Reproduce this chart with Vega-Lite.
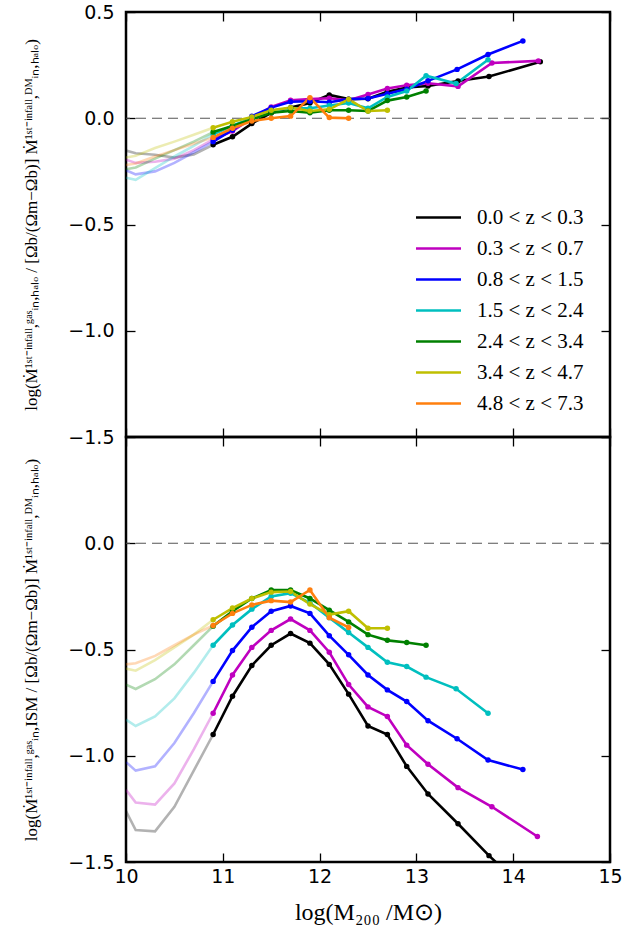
{
"$schema": "https://vega.github.io/schema/vega-lite/v6.json",
"padding": {"left": 21, "top": 1, "right": 5, "bottom": 5},
"spacing": 0,
"bounds": "flush",
"config": {
 "view": {"stroke": "#000", "strokeWidth": 2.5},
 "axis": {"grid": false, "domain": false, "tickColor": "#000", "tickWidth": 1.3, "tickSize": -9, "labelFont": "DejaVu Sans", "labelFontSize": 19, "labelColor": "#000", "labelPadding": 21, "labelFlush": false, "titleFont": "Liberation Serif", "titleColor": "#000", "titleFontWeight": "normal", "titleFontSize": 17},
 "line": {"strokeWidth": 2.6}
},
"datasets": {"d": [
{"p":"t","s":"m","z":"0.0 < z < 0.3","x":10.9,"y":-0.125},{"p":"t","s":"m","z":"0.0 < z < 0.3","x":11.1,"y":-0.087},{"p":"t","s":"m","z":"0.0 < z < 0.3","x":11.3,"y":-0.025},{"p":"t","s":"m","z":"0.0 < z < 0.3","x":11.5,"y":0.025},{"p":"t","s":"m","z":"0.0 < z < 0.3","x":11.7,"y":0.05},{"p":"t","s":"m","z":"0.0 < z < 0.3","x":11.9,"y":0.072},{"p":"t","s":"m","z":"0.0 < z < 0.3","x":12.1,"y":0.11},{"p":"t","s":"m","z":"0.0 < z < 0.3","x":12.3,"y":0.09},{"p":"t","s":"m","z":"0.0 < z < 0.3","x":12.5,"y":0.092},{"p":"t","s":"m","z":"0.0 < z < 0.3","x":12.7,"y":0.125},{"p":"t","s":"m","z":"0.0 < z < 0.3","x":12.9,"y":0.145},{"p":"t","s":"m","z":"0.0 < z < 0.3","x":13.12,"y":0.152},{"p":"t","s":"m","z":"0.0 < z < 0.3","x":13.43,"y":0.175},{"p":"t","s":"m","z":"0.0 < z < 0.3","x":13.75,"y":0.196},{"p":"t","s":"m","z":"0.0 < z < 0.3","x":14.28,"y":0.266},
{"p":"t","s":"m","z":"0.3 < z < 0.7","x":10.9,"y":-0.1},{"p":"t","s":"m","z":"0.3 < z < 0.7","x":11.1,"y":-0.06},{"p":"t","s":"m","z":"0.3 < z < 0.7","x":11.3,"y":0.0},{"p":"t","s":"m","z":"0.3 < z < 0.7","x":11.5,"y":0.053},{"p":"t","s":"m","z":"0.3 < z < 0.7","x":11.7,"y":0.085},{"p":"t","s":"m","z":"0.3 < z < 0.7","x":11.9,"y":0.09},{"p":"t","s":"m","z":"0.3 < z < 0.7","x":12.1,"y":0.094},{"p":"t","s":"m","z":"0.3 < z < 0.7","x":12.3,"y":0.085},{"p":"t","s":"m","z":"0.3 < z < 0.7","x":12.5,"y":0.112},{"p":"t","s":"m","z":"0.3 < z < 0.7","x":12.7,"y":0.14},{"p":"t","s":"m","z":"0.3 < z < 0.7","x":12.9,"y":0.155},{"p":"t","s":"m","z":"0.3 < z < 0.7","x":13.12,"y":0.165},{"p":"t","s":"m","z":"0.3 < z < 0.7","x":13.43,"y":0.15},{"p":"t","s":"m","z":"0.3 < z < 0.7","x":13.78,"y":0.26},{"p":"t","s":"m","z":"0.3 < z < 0.7","x":14.26,"y":0.27},
{"p":"t","s":"m","z":"0.8 < z < 1.5","x":10.9,"y":-0.11},{"p":"t","s":"m","z":"0.8 < z < 1.5","x":11.1,"y":-0.055},{"p":"t","s":"m","z":"0.8 < z < 1.5","x":11.3,"y":0.01},{"p":"t","s":"m","z":"0.8 < z < 1.5","x":11.5,"y":0.05},{"p":"t","s":"m","z":"0.8 < z < 1.5","x":11.7,"y":0.078},{"p":"t","s":"m","z":"0.8 < z < 1.5","x":11.9,"y":0.08},{"p":"t","s":"m","z":"0.8 < z < 1.5","x":12.1,"y":0.075},{"p":"t","s":"m","z":"0.8 < z < 1.5","x":12.3,"y":0.09},{"p":"t","s":"m","z":"0.8 < z < 1.5","x":12.5,"y":0.093},{"p":"t","s":"m","z":"0.8 < z < 1.5","x":12.7,"y":0.115},{"p":"t","s":"m","z":"0.8 < z < 1.5","x":12.9,"y":0.137},{"p":"t","s":"m","z":"0.8 < z < 1.5","x":13.12,"y":0.176},{"p":"t","s":"m","z":"0.8 < z < 1.5","x":13.42,"y":0.23},{"p":"t","s":"m","z":"0.8 < z < 1.5","x":13.74,"y":0.3},{"p":"t","s":"m","z":"0.8 < z < 1.5","x":14.1,"y":0.364},
{"p":"t","s":"m","z":"1.5 < z < 2.4","x":10.9,"y":-0.075},{"p":"t","s":"m","z":"1.5 < z < 2.4","x":11.1,"y":-0.035},{"p":"t","s":"m","z":"1.5 < z < 2.4","x":11.3,"y":0.0},{"p":"t","s":"m","z":"1.5 < z < 2.4","x":11.5,"y":0.035},{"p":"t","s":"m","z":"1.5 < z < 2.4","x":11.7,"y":0.047},{"p":"t","s":"m","z":"1.5 < z < 2.4","x":11.9,"y":0.047},{"p":"t","s":"m","z":"1.5 < z < 2.4","x":12.1,"y":0.06},{"p":"t","s":"m","z":"1.5 < z < 2.4","x":12.3,"y":0.072},{"p":"t","s":"m","z":"1.5 < z < 2.4","x":12.5,"y":0.047},{"p":"t","s":"m","z":"1.5 < z < 2.4","x":12.7,"y":0.1},{"p":"t","s":"m","z":"1.5 < z < 2.4","x":12.9,"y":0.128},{"p":"t","s":"m","z":"1.5 < z < 2.4","x":13.1,"y":0.2},{"p":"t","s":"m","z":"1.5 < z < 2.4","x":13.41,"y":0.163},{"p":"t","s":"m","z":"1.5 < z < 2.4","x":13.74,"y":0.275},
{"p":"t","s":"m","z":"2.4 < z < 3.4","x":10.9,"y":-0.065},{"p":"t","s":"m","z":"2.4 < z < 3.4","x":11.1,"y":-0.036},{"p":"t","s":"m","z":"2.4 < z < 3.4","x":11.3,"y":-0.005},{"p":"t","s":"m","z":"2.4 < z < 3.4","x":11.5,"y":0.026},{"p":"t","s":"m","z":"2.4 < z < 3.4","x":11.7,"y":0.034},{"p":"t","s":"m","z":"2.4 < z < 3.4","x":11.9,"y":0.026},{"p":"t","s":"m","z":"2.4 < z < 3.4","x":12.1,"y":0.038},{"p":"t","s":"m","z":"2.4 < z < 3.4","x":12.3,"y":0.038},{"p":"t","s":"m","z":"2.4 < z < 3.4","x":12.5,"y":0.034},{"p":"t","s":"m","z":"2.4 < z < 3.4","x":12.7,"y":0.083},{"p":"t","s":"m","z":"2.4 < z < 3.4","x":12.9,"y":0.1},{"p":"t","s":"m","z":"2.4 < z < 3.4","x":13.1,"y":0.128},
{"p":"t","s":"m","z":"3.4 < z < 4.7","x":10.9,"y":-0.045},{"p":"t","s":"m","z":"3.4 < z < 4.7","x":11.1,"y":-0.017},{"p":"t","s":"m","z":"3.4 < z < 4.7","x":11.3,"y":0.006},{"p":"t","s":"m","z":"3.4 < z < 4.7","x":11.5,"y":0.038},{"p":"t","s":"m","z":"3.4 < z < 4.7","x":11.7,"y":0.05},{"p":"t","s":"m","z":"3.4 < z < 4.7","x":11.9,"y":0.034},{"p":"t","s":"m","z":"3.4 < z < 4.7","x":12.1,"y":0.042},{"p":"t","s":"m","z":"3.4 < z < 4.7","x":12.3,"y":0.089},{"p":"t","s":"m","z":"3.4 < z < 4.7","x":12.5,"y":0.034},{"p":"t","s":"m","z":"3.4 < z < 4.7","x":12.7,"y":0.038},
{"p":"t","s":"m","z":"4.8 < z < 7.3","x":10.9,"y":-0.09},{"p":"t","s":"m","z":"4.8 < z < 7.3","x":11.1,"y":-0.047},{"p":"t","s":"m","z":"4.8 < z < 7.3","x":11.3,"y":-0.013},{"p":"t","s":"m","z":"4.8 < z < 7.3","x":11.5,"y":0.0},{"p":"t","s":"m","z":"4.8 < z < 7.3","x":11.7,"y":0.01},{"p":"t","s":"m","z":"4.8 < z < 7.3","x":11.9,"y":0.097},{"p":"t","s":"m","z":"4.8 < z < 7.3","x":12.1,"y":0.003},{"p":"t","s":"m","z":"4.8 < z < 7.3","x":12.3,"y":0.0},
{"p":"t","s":"l","z":"0.0 < z < 0.3","x":10.0,"y":-0.152},{"p":"t","s":"l","z":"0.0 < z < 0.3","x":10.1,"y":-0.165},{"p":"t","s":"l","z":"0.0 < z < 0.3","x":10.3,"y":-0.172},{"p":"t","s":"l","z":"0.0 < z < 0.3","x":10.5,"y":-0.185},{"p":"t","s":"l","z":"0.0 < z < 0.3","x":10.7,"y":-0.17},{"p":"t","s":"l","z":"0.0 < z < 0.3","x":10.9,"y":-0.125},
{"p":"t","s":"l","z":"0.3 < z < 0.7","x":10.0,"y":-0.195},{"p":"t","s":"l","z":"0.3 < z < 0.7","x":10.1,"y":-0.21},{"p":"t","s":"l","z":"0.3 < z < 0.7","x":10.3,"y":-0.205},{"p":"t","s":"l","z":"0.3 < z < 0.7","x":10.5,"y":-0.19},{"p":"t","s":"l","z":"0.3 < z < 0.7","x":10.7,"y":-0.15},{"p":"t","s":"l","z":"0.3 < z < 0.7","x":10.9,"y":-0.1},
{"p":"t","s":"l","z":"0.8 < z < 1.5","x":10.0,"y":-0.245},{"p":"t","s":"l","z":"0.8 < z < 1.5","x":10.1,"y":-0.264},{"p":"t","s":"l","z":"0.8 < z < 1.5","x":10.3,"y":-0.25},{"p":"t","s":"l","z":"0.8 < z < 1.5","x":10.5,"y":-0.21},{"p":"t","s":"l","z":"0.8 < z < 1.5","x":10.7,"y":-0.16},{"p":"t","s":"l","z":"0.8 < z < 1.5","x":10.9,"y":-0.11},
{"p":"t","s":"l","z":"1.5 < z < 2.4","x":10.0,"y":-0.28},{"p":"t","s":"l","z":"1.5 < z < 2.4","x":10.1,"y":-0.29},{"p":"t","s":"l","z":"1.5 < z < 2.4","x":10.3,"y":-0.235},{"p":"t","s":"l","z":"1.5 < z < 2.4","x":10.5,"y":-0.18},{"p":"t","s":"l","z":"1.5 < z < 2.4","x":10.7,"y":-0.13},{"p":"t","s":"l","z":"1.5 < z < 2.4","x":10.9,"y":-0.075},
{"p":"t","s":"l","z":"2.4 < z < 3.4","x":10.0,"y":-0.24},{"p":"t","s":"l","z":"2.4 < z < 3.4","x":10.1,"y":-0.232},{"p":"t","s":"l","z":"2.4 < z < 3.4","x":10.3,"y":-0.19},{"p":"t","s":"l","z":"2.4 < z < 3.4","x":10.5,"y":-0.15},{"p":"t","s":"l","z":"2.4 < z < 3.4","x":10.7,"y":-0.11},{"p":"t","s":"l","z":"2.4 < z < 3.4","x":10.9,"y":-0.065},
{"p":"t","s":"l","z":"3.4 < z < 4.7","x":10.0,"y":-0.185},{"p":"t","s":"l","z":"3.4 < z < 4.7","x":10.1,"y":-0.177},{"p":"t","s":"l","z":"3.4 < z < 4.7","x":10.3,"y":-0.14},{"p":"t","s":"l","z":"3.4 < z < 4.7","x":10.5,"y":-0.11},{"p":"t","s":"l","z":"3.4 < z < 4.7","x":10.7,"y":-0.078},{"p":"t","s":"l","z":"3.4 < z < 4.7","x":10.9,"y":-0.045},
{"p":"t","s":"l","z":"4.8 < z < 7.3","x":10.0,"y":-0.22},{"p":"t","s":"l","z":"4.8 < z < 7.3","x":10.1,"y":-0.213},{"p":"t","s":"l","z":"4.8 < z < 7.3","x":10.3,"y":-0.18},{"p":"t","s":"l","z":"4.8 < z < 7.3","x":10.5,"y":-0.15},{"p":"t","s":"l","z":"4.8 < z < 7.3","x":10.7,"y":-0.12},{"p":"t","s":"l","z":"4.8 < z < 7.3","x":10.9,"y":-0.09},
{"p":"b","s":"m","z":"0.0 < z < 0.3","x":10.9,"y":-0.9},{"p":"b","s":"m","z":"0.0 < z < 0.3","x":11.1,"y":-0.72},{"p":"b","s":"m","z":"0.0 < z < 0.3","x":11.3,"y":-0.575},{"p":"b","s":"m","z":"0.0 < z < 0.3","x":11.5,"y":-0.48},{"p":"b","s":"m","z":"0.0 < z < 0.3","x":11.7,"y":-0.425},{"p":"b","s":"m","z":"0.0 < z < 0.3","x":11.9,"y":-0.47},{"p":"b","s":"m","z":"0.0 < z < 0.3","x":12.1,"y":-0.57},{"p":"b","s":"m","z":"0.0 < z < 0.3","x":12.3,"y":-0.71},{"p":"b","s":"m","z":"0.0 < z < 0.3","x":12.5,"y":-0.86},{"p":"b","s":"m","z":"0.0 < z < 0.3","x":12.7,"y":-0.9},{"p":"b","s":"m","z":"0.0 < z < 0.3","x":12.9,"y":-1.05},{"p":"b","s":"m","z":"0.0 < z < 0.3","x":13.12,"y":-1.18},{"p":"b","s":"m","z":"0.0 < z < 0.3","x":13.43,"y":-1.32},{"p":"b","s":"m","z":"0.0 < z < 0.3","x":13.75,"y":-1.47},{"p":"b","s":"m","z":"0.0 < z < 0.3","x":14.1,"y":-1.62},{"p":"b","s":"m","z":"0.0 < z < 0.3","x":14.28,"y":-1.7},
{"p":"b","s":"m","z":"0.3 < z < 0.7","x":10.9,"y":-0.8},{"p":"b","s":"m","z":"0.3 < z < 0.7","x":11.1,"y":-0.62},{"p":"b","s":"m","z":"0.3 < z < 0.7","x":11.3,"y":-0.49},{"p":"b","s":"m","z":"0.3 < z < 0.7","x":11.5,"y":-0.41},{"p":"b","s":"m","z":"0.3 < z < 0.7","x":11.7,"y":-0.357},{"p":"b","s":"m","z":"0.3 < z < 0.7","x":11.9,"y":-0.41},{"p":"b","s":"m","z":"0.3 < z < 0.7","x":12.1,"y":-0.513},{"p":"b","s":"m","z":"0.3 < z < 0.7","x":12.3,"y":-0.665},{"p":"b","s":"m","z":"0.3 < z < 0.7","x":12.5,"y":-0.77},{"p":"b","s":"m","z":"0.3 < z < 0.7","x":12.7,"y":-0.815},{"p":"b","s":"m","z":"0.3 < z < 0.7","x":12.9,"y":-0.95},{"p":"b","s":"m","z":"0.3 < z < 0.7","x":13.12,"y":-1.04},{"p":"b","s":"m","z":"0.3 < z < 0.7","x":13.43,"y":-1.15},{"p":"b","s":"m","z":"0.3 < z < 0.7","x":13.78,"y":-1.24},{"p":"b","s":"m","z":"0.3 < z < 0.7","x":14.25,"y":-1.38},
{"p":"b","s":"m","z":"0.8 < z < 1.5","x":10.9,"y":-0.65},{"p":"b","s":"m","z":"0.8 < z < 1.5","x":11.1,"y":-0.505},{"p":"b","s":"m","z":"0.8 < z < 1.5","x":11.3,"y":-0.395},{"p":"b","s":"m","z":"0.8 < z < 1.5","x":11.5,"y":-0.32},{"p":"b","s":"m","z":"0.8 < z < 1.5","x":11.7,"y":-0.295},{"p":"b","s":"m","z":"0.8 < z < 1.5","x":11.9,"y":-0.33},{"p":"b","s":"m","z":"0.8 < z < 1.5","x":12.1,"y":-0.435},{"p":"b","s":"m","z":"0.8 < z < 1.5","x":12.3,"y":-0.525},{"p":"b","s":"m","z":"0.8 < z < 1.5","x":12.5,"y":-0.62},{"p":"b","s":"m","z":"0.8 < z < 1.5","x":12.7,"y":-0.69},{"p":"b","s":"m","z":"0.8 < z < 1.5","x":12.9,"y":-0.745},{"p":"b","s":"m","z":"0.8 < z < 1.5","x":13.12,"y":-0.835},{"p":"b","s":"m","z":"0.8 < z < 1.5","x":13.42,"y":-0.92},{"p":"b","s":"m","z":"0.8 < z < 1.5","x":13.74,"y":-1.02},{"p":"b","s":"m","z":"0.8 < z < 1.5","x":14.1,"y":-1.065},
{"p":"b","s":"m","z":"1.5 < z < 2.4","x":10.9,"y":-0.48},{"p":"b","s":"m","z":"1.5 < z < 2.4","x":11.1,"y":-0.385},{"p":"b","s":"m","z":"1.5 < z < 2.4","x":11.3,"y":-0.31},{"p":"b","s":"m","z":"1.5 < z < 2.4","x":11.5,"y":-0.25},{"p":"b","s":"m","z":"1.5 < z < 2.4","x":11.7,"y":-0.235},{"p":"b","s":"m","z":"1.5 < z < 2.4","x":11.9,"y":-0.28},{"p":"b","s":"m","z":"1.5 < z < 2.4","x":12.1,"y":-0.35},{"p":"b","s":"m","z":"1.5 < z < 2.4","x":12.3,"y":-0.42},{"p":"b","s":"m","z":"1.5 < z < 2.4","x":12.5,"y":-0.49},{"p":"b","s":"m","z":"1.5 < z < 2.4","x":12.7,"y":-0.56},{"p":"b","s":"m","z":"1.5 < z < 2.4","x":12.9,"y":-0.58},{"p":"b","s":"m","z":"1.5 < z < 2.4","x":13.1,"y":-0.63},{"p":"b","s":"m","z":"1.5 < z < 2.4","x":13.41,"y":-0.685},{"p":"b","s":"m","z":"1.5 < z < 2.4","x":13.74,"y":-0.8},
{"p":"b","s":"m","z":"2.4 < z < 3.4","x":10.9,"y":-0.39},{"p":"b","s":"m","z":"2.4 < z < 3.4","x":11.1,"y":-0.32},{"p":"b","s":"m","z":"2.4 < z < 3.4","x":11.3,"y":-0.26},{"p":"b","s":"m","z":"2.4 < z < 3.4","x":11.5,"y":-0.22},{"p":"b","s":"m","z":"2.4 < z < 3.4","x":11.7,"y":-0.22},{"p":"b","s":"m","z":"2.4 < z < 3.4","x":11.9,"y":-0.26},{"p":"b","s":"m","z":"2.4 < z < 3.4","x":12.1,"y":-0.315},{"p":"b","s":"m","z":"2.4 < z < 3.4","x":12.3,"y":-0.37},{"p":"b","s":"m","z":"2.4 < z < 3.4","x":12.5,"y":-0.43},{"p":"b","s":"m","z":"2.4 < z < 3.4","x":12.7,"y":-0.457},{"p":"b","s":"m","z":"2.4 < z < 3.4","x":12.9,"y":-0.467},{"p":"b","s":"m","z":"2.4 < z < 3.4","x":13.1,"y":-0.48},
{"p":"b","s":"m","z":"3.4 < z < 4.7","x":10.9,"y":-0.36},{"p":"b","s":"m","z":"3.4 < z < 4.7","x":11.1,"y":-0.305},{"p":"b","s":"m","z":"3.4 < z < 4.7","x":11.3,"y":-0.26},{"p":"b","s":"m","z":"3.4 < z < 4.7","x":11.5,"y":-0.23},{"p":"b","s":"m","z":"3.4 < z < 4.7","x":11.7,"y":-0.227},{"p":"b","s":"m","z":"3.4 < z < 4.7","x":11.9,"y":-0.286},{"p":"b","s":"m","z":"3.4 < z < 4.7","x":12.1,"y":-0.336},{"p":"b","s":"m","z":"3.4 < z < 4.7","x":12.3,"y":-0.32},{"p":"b","s":"m","z":"3.4 < z < 4.7","x":12.5,"y":-0.4},{"p":"b","s":"m","z":"3.4 < z < 4.7","x":12.7,"y":-0.4},
{"p":"b","s":"m","z":"4.8 < z < 7.3","x":10.9,"y":-0.387},{"p":"b","s":"m","z":"4.8 < z < 7.3","x":11.1,"y":-0.33},{"p":"b","s":"m","z":"4.8 < z < 7.3","x":11.3,"y":-0.29},{"p":"b","s":"m","z":"4.8 < z < 7.3","x":11.5,"y":-0.27},{"p":"b","s":"m","z":"4.8 < z < 7.3","x":11.7,"y":-0.277},{"p":"b","s":"m","z":"4.8 < z < 7.3","x":11.9,"y":-0.22},{"p":"b","s":"m","z":"4.8 < z < 7.3","x":12.1,"y":-0.35},{"p":"b","s":"m","z":"4.8 < z < 7.3","x":12.3,"y":-0.396},
{"p":"b","s":"l","z":"0.0 < z < 0.3","x":10.0,"y":-1.26},{"p":"b","s":"l","z":"0.0 < z < 0.3","x":10.1,"y":-1.35},{"p":"b","s":"l","z":"0.0 < z < 0.3","x":10.3,"y":-1.356},{"p":"b","s":"l","z":"0.0 < z < 0.3","x":10.5,"y":-1.24},{"p":"b","s":"l","z":"0.0 < z < 0.3","x":10.7,"y":-1.07},{"p":"b","s":"l","z":"0.0 < z < 0.3","x":10.9,"y":-0.9},
{"p":"b","s":"l","z":"0.3 < z < 0.7","x":10.0,"y":-1.16},{"p":"b","s":"l","z":"0.3 < z < 0.7","x":10.1,"y":-1.22},{"p":"b","s":"l","z":"0.3 < z < 0.7","x":10.3,"y":-1.23},{"p":"b","s":"l","z":"0.3 < z < 0.7","x":10.5,"y":-1.13},{"p":"b","s":"l","z":"0.3 < z < 0.7","x":10.7,"y":-0.97},{"p":"b","s":"l","z":"0.3 < z < 0.7","x":10.9,"y":-0.8},
{"p":"b","s":"l","z":"0.8 < z < 1.5","x":10.0,"y":-1.03},{"p":"b","s":"l","z":"0.8 < z < 1.5","x":10.1,"y":-1.07},{"p":"b","s":"l","z":"0.8 < z < 1.5","x":10.3,"y":-1.05},{"p":"b","s":"l","z":"0.8 < z < 1.5","x":10.5,"y":-0.94},{"p":"b","s":"l","z":"0.8 < z < 1.5","x":10.7,"y":-0.8},{"p":"b","s":"l","z":"0.8 < z < 1.5","x":10.9,"y":-0.65},
{"p":"b","s":"l","z":"1.5 < z < 2.4","x":10.0,"y":-0.83},{"p":"b","s":"l","z":"1.5 < z < 2.4","x":10.1,"y":-0.86},{"p":"b","s":"l","z":"1.5 < z < 2.4","x":10.3,"y":-0.815},{"p":"b","s":"l","z":"1.5 < z < 2.4","x":10.5,"y":-0.73},{"p":"b","s":"l","z":"1.5 < z < 2.4","x":10.7,"y":-0.61},{"p":"b","s":"l","z":"1.5 < z < 2.4","x":10.9,"y":-0.48},
{"p":"b","s":"l","z":"2.4 < z < 3.4","x":10.0,"y":-0.665},{"p":"b","s":"l","z":"2.4 < z < 3.4","x":10.1,"y":-0.686},{"p":"b","s":"l","z":"2.4 < z < 3.4","x":10.3,"y":-0.64},{"p":"b","s":"l","z":"2.4 < z < 3.4","x":10.5,"y":-0.57},{"p":"b","s":"l","z":"2.4 < z < 3.4","x":10.7,"y":-0.48},{"p":"b","s":"l","z":"2.4 < z < 3.4","x":10.9,"y":-0.39},
{"p":"b","s":"l","z":"3.4 < z < 4.7","x":10.0,"y":-0.59},{"p":"b","s":"l","z":"3.4 < z < 4.7","x":10.1,"y":-0.6},{"p":"b","s":"l","z":"3.4 < z < 4.7","x":10.3,"y":-0.55},{"p":"b","s":"l","z":"3.4 < z < 4.7","x":10.5,"y":-0.49},{"p":"b","s":"l","z":"3.4 < z < 4.7","x":10.7,"y":-0.43},{"p":"b","s":"l","z":"3.4 < z < 4.7","x":10.9,"y":-0.36},
{"p":"b","s":"l","z":"4.8 < z < 7.3","x":10.0,"y":-0.57},{"p":"b","s":"l","z":"4.8 < z < 7.3","x":10.1,"y":-0.565},{"p":"b","s":"l","z":"4.8 < z < 7.3","x":10.3,"y":-0.53},{"p":"b","s":"l","z":"4.8 < z < 7.3","x":10.5,"y":-0.48},{"p":"b","s":"l","z":"4.8 < z < 7.3","x":10.7,"y":-0.43},{"p":"b","s":"l","z":"4.8 < z < 7.3","x":10.9,"y":-0.387}
]},
"vconcat": [
{
 "width": 484, "height": 425,
 "resolve": {"axis": {"x": "independent", "y": "independent"}},
 "layer": [
  {"data": {"values": [{}]}, "mark": {"type": "rule", "strokeDash": [10, 6], "color": "#555", "strokeWidth": 1.1},
   "encoding": {"y": {"datum": 0, "type": "quantitative", "scale": {"domain": [-1.5, 0.5], "nice": false, "zero": false}, "axis": null}}},
  {"data": {"name": "d"}, "transform": [{"filter": "datum.p == 't' && datum.s == 'l'"}],
   "mark": {"type": "line", "strokeOpacity": 0.3, "clip": true},
   "encoding": {
    "x": {"field": "x", "type": "quantitative", "scale": {"domain": [10, 15], "nice": false, "zero": false}, "axis": null},
    "y": {"field": "y", "type": "quantitative", "scale": {"domain": [-1.5, 0.5], "nice": false, "zero": false}, "axis": null},
    "color": {"field": "z", "type": "nominal", "scale": {"domain": ["0.0 < z < 0.3","0.3 < z < 0.7","0.8 < z < 1.5","1.5 < z < 2.4","2.4 < z < 3.4","3.4 < z < 4.7","4.8 < z < 7.3"], "range": ["#000000","#bf00bf","#0000ff","#00bfbf","#008000","#bfbf00","#ff7f0e"]}}}},
  {"data": {"name": "d"}, "transform": [{"filter": "datum.p == 't' && datum.s == 'm'"}],
   "mark": {"type": "line", "clip": true},
   "encoding": {
    "x": {"field": "x", "type": "quantitative", "scale": {"domain": [10, 15], "nice": false, "zero": false}, "axis": {"orient": "bottom", "values": [10, 11, 12, 13, 14, 15], "labels": false, "title": null}},
    "y": {"field": "y", "type": "quantitative", "scale": {"domain": [-1.5, 0.5], "nice": false, "zero": false}, "axis": {"orient": "left", "values": [-1.5, -1, -0.5, 0, 0.5], "format": ".1f", "titlePadding": 27, "title": "log(Ṁ¹ˢᵗ⁻ⁱⁿᶠᵃˡˡ,ᵍᵃˢᵢₙ,ₕₐₗₒ / [Ωb/(Ωm−Ωb)] Ṁ¹ˢᵗ⁻ⁱⁿᶠᵃˡˡ,ᴰᴹᵢₙ,ₕₐₗₒ)"}},
    "color": {"field": "z", "type": "nominal", "scale": {"domain": ["0.0 < z < 0.3","0.3 < z < 0.7","0.8 < z < 1.5","1.5 < z < 2.4","2.4 < z < 3.4","3.4 < z < 4.7","4.8 < z < 7.3"], "range": ["#000000","#bf00bf","#0000ff","#00bfbf","#008000","#bfbf00","#ff7f0e"]},
     "legend": {"orient": "none", "legendX": 302, "legendY": 195, "title": null, "symbolType": "M-2.5,0H2.5", "symbolSize": 324, "symbolStrokeWidth": 2.6, "symbolOpacity": 1, "labelFont": "Liberation Serif", "labelFontSize": 21, "labelColor": "#000", "labelOffset": 28, "rowPadding": 9, "padding": 0}}}},
  {"data": {"name": "d"}, "transform": [{"filter": "datum.p == 't' && datum.s == 'm'"}],
   "mark": {"type": "circle", "size": 30, "opacity": 1, "clip": true},
   "encoding": {
    "x": {"field": "x", "type": "quantitative", "scale": {"domain": [10, 15], "nice": false, "zero": false}, "axis": {"orient": "top", "values": [10, 11, 12, 13, 14, 15], "labels": false, "title": null}},
    "y": {"field": "y", "type": "quantitative", "scale": {"domain": [-1.5, 0.5], "nice": false, "zero": false}, "axis": {"orient": "right", "values": [-1.5, -1, -0.5, 0, 0.5], "labels": false, "title": null}},
    "color": {"field": "z", "type": "nominal"}}}
 ]
},
{
 "width": 484, "height": 425,
 "resolve": {"axis": {"x": "independent", "y": "independent"}},
 "layer": [
  {"data": {"values": [{}]}, "mark": {"type": "rule", "strokeDash": [10, 6], "color": "#555", "strokeWidth": 1.1},
   "encoding": {"y": {"datum": 0, "type": "quantitative", "scale": {"domain": [-1.5, 0.5], "nice": false, "zero": false}, "axis": null}}},
  {"data": {"name": "d"}, "transform": [{"filter": "datum.p == 'b' && datum.s == 'l'"}],
   "mark": {"type": "line", "strokeOpacity": 0.3, "clip": true},
   "encoding": {
    "x": {"field": "x", "type": "quantitative", "scale": {"domain": [10, 15], "nice": false, "zero": false}, "axis": null},
    "y": {"field": "y", "type": "quantitative", "scale": {"domain": [-1.5, 0.5], "nice": false, "zero": false}, "axis": null},
    "color": {"field": "z", "type": "nominal"}}},
  {"data": {"name": "d"}, "transform": [{"filter": "datum.p == 'b' && datum.s == 'm'"}],
   "mark": {"type": "line", "clip": true},
   "encoding": {
    "x": {"field": "x", "type": "quantitative", "scale": {"domain": [10, 15], "nice": false, "zero": false}, "axis": {"orient": "bottom", "values": [10, 11, 12, 13, 14, 15], "format": "d", "labelPadding": 14, "titleFontSize": 24, "titlePadding": 14, "title": "log(M₂₀₀ /M⊙)"}},
    "y": {"field": "y", "type": "quantitative", "scale": {"domain": [-1.5, 0.5], "nice": false, "zero": false}, "axis": {"orient": "left", "values": [-1.5, -1, -0.5, 0], "format": ".1f", "titlePadding": 27, "title": "log(Ṁ¹ˢᵗ⁻ⁱⁿᶠᵃˡˡ,ᵍᵃˢᵢₙ,ISM / [Ωb/(Ωm−Ωb)] Ṁ¹ˢᵗ⁻ⁱⁿᶠᵃˡˡ,ᴰᴹᵢₙ,ₕₐₗₒ)"}},
    "color": {"field": "z", "type": "nominal"}}},
  {"data": {"name": "d"}, "transform": [{"filter": "datum.p == 'b' && datum.s == 'm'"}],
   "mark": {"type": "circle", "size": 30, "opacity": 1, "clip": true},
   "encoding": {
    "x": {"field": "x", "type": "quantitative", "scale": {"domain": [10, 15], "nice": false, "zero": false}, "axis": {"orient": "top", "values": [10, 11, 12, 13, 14, 15], "labels": false, "title": null}},
    "y": {"field": "y", "type": "quantitative", "scale": {"domain": [-1.5, 0.5], "nice": false, "zero": false}, "axis": {"orient": "right", "values": [-1.5, -1, -0.5, 0, 0.5], "labels": false, "title": null}},
    "color": {"field": "z", "type": "nominal"}}}
 ]
}
]
}
